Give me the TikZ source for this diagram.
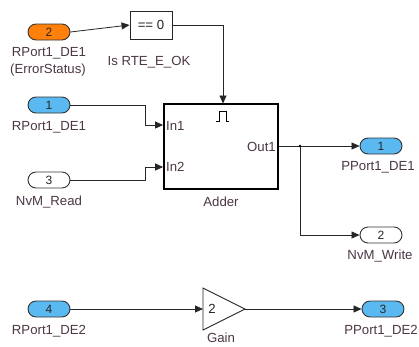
\documentclass[tikz,border=0pt]{standalone}
\usepackage{fontspec}
\setmainfont{Liberation Sans}
\usetikzlibrary{arrows.meta}
\definecolor{portorange}{RGB}{255,128,10}
\definecolor{portblue}{RGB}{90,185,240}
\definecolor{labelcol}{RGB}{75,55,70}
\tikzset{
  port/.style={draw=black!80, line width=0.9pt, rounded corners=8pt, minimum width=42pt, minimum height=16pt, inner sep=0pt, font=\fontsize{12}{14}\selectfont, text=black!85},
  lbl/.style={font=\fontsize{13.2}{15}\selectfont, text=labelcol, inner sep=0pt},
  sig/.style={draw=black!85, line width=0.8pt},
  arr/.style={sig, -{Triangle[length=8pt,width=7pt]}},
}
\begin{document}
\begin{tikzpicture}[x=1pt,y=-1pt]
\useasboundingbox[fill=white] (0,0) rectangle (419,346);

% ports
\node[port, fill=portorange] (p2) at (49,32) {2};
\node[lbl] (p2l) at (49,53) {RPort1\_DE1};
\node[lbl] (p2l2) at (48,70) {(ErrorStatus)};

\node[port, fill=portblue] (p1) at (49,105) {1};
\node[lbl] (p1l) at (49,127) {RPort1\_DE1};

\node[port, fill=white] (p3) at (49,180) {3};
\node[lbl] (p3l) at (49,202) {NvM\_Read};

\node[port, fill=portblue] (p4) at (49,309) {4};
\node[lbl] (p4l) at (49,331) {RPort1\_DE2};

\node[port, fill=portblue] (o1) at (381,146) {1};
\node[lbl] (o1l) at (378,167) {PPort1\_DE1};

\node[port, fill=white] (o2) at (381,235) {2};
\node[lbl] (o2l) at (380,256) {NvM\_Write};

\node[port, fill=portblue] (o3) at (383,309) {3};
\node[lbl] (o3l) at (381,331) {PPort1\_DE2};

% compare block
\node[draw=black!85, line width=0.9pt, minimum width=42pt, minimum height=28pt, inner sep=0pt, font=\fontsize{13.2}{15}\selectfont, text=black!85] (cmp) at (151,25) {== 0};
\node[lbl] (cmpl) at (149,62) {Is RTE\_E\_OK};

% subsystem
\node[draw=black, line width=1.8pt, minimum width=114pt, minimum height=85pt, inner sep=0pt] (sub) at (221,146.5) {};
\node[lbl] (subl) at (221,202) {Adder};
\coordinate (in1) at (sub.west |- 0,125);
\coordinate (in2) at (sub.west |- 0,167);
\coordinate (out1) at (sub.east |- 0,146);
\coordinate (trig) at (223,103.5);
\node[lbl, anchor=west] (in1l) at (166,126) {In1};
\node[lbl, anchor=west] (in2l) at (166,167) {In2};
\node[lbl, anchor=east] (out1l) at (276,147) {Out1};
\draw[line width=0.9pt] (216,121) -- (219,121) -- (219,111) -- (226,111) -- (226,121) -- (229,121);

% gain
\coordinate (gin) at (203,309);
\coordinate (gout) at (245,309);
\draw[draw=black!85, line width=0.9pt] (203,288) -- (gout) -- (203,330) -- cycle;
\node[lbl, text=black!85] (gtxt) at (212,309) {2};
\node[lbl] (gl) at (221,338) {Gain};

% connectors
\draw[arr] (p2.east) -- (cmp.west);
\draw[arr] (cmp.east) -| (trig);
\draw[arr] (p1.east) -- ++(75,0) |- (in1);
\draw[arr] (p3.east) -- ++(75,0) |- (in2);
\coordinate (br) at (300,146);
\draw[arr] (out1) -- (o1.west);
\draw[arr] (br) |- (o2.west);
\fill[black] (br) circle (1.3pt);
\draw[arr] (p4.east) -- (gin);
\draw[arr] (gout) -- (o3.west);
\end{tikzpicture}
\end{document}
